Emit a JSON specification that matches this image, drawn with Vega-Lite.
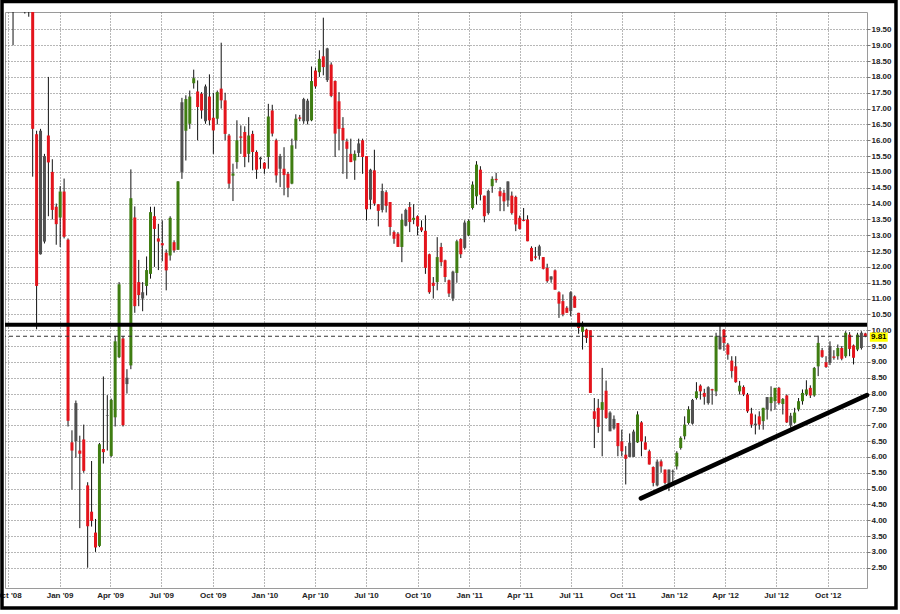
{
"$schema": "https://vega.github.io/schema/vega-lite/v6.json",
"width": 862, "height": 576,
"autosize": {"type": "none"},
"padding": {"left": 5, "top": 12, "right": 33, "bottom": 26},
"background": "white",
"config": {"view": {"stroke": "#9a9a9a", "strokeWidth": 1}, "axis": {"labelOverlap": false}},
"datasets": {"w": [
{"d":"2008-10-10","o":20.6,"h":20.8,"l":19.0,"c":20.3,"k":"n"},
{"d":"2008-10-17","o":20.8,"h":21.4,"l":20.3,"c":21.0,"k":"u"},
{"d":"2008-10-24","o":21.0,"h":21.5,"l":20.4,"c":20.7,"k":"d"},
{"d":"2008-10-31","o":20.6,"h":21.0,"l":20.0,"c":20.4,"k":"d"},
{"d":"2008-11-07","o":20.4,"h":20.8,"l":19.9,"c":20.3,"k":"d"},
{"d":"2008-11-14","o":20.4,"h":20.6,"l":14.85,"c":16.36,"k":"d"},
{"d":"2008-11-21","o":16.19,"h":16.3,"l":10.03,"c":11.4,"k":"d"},
{"d":"2008-11-28","o":12.4,"h":16.36,"l":12.39,"c":16.3,"k":"n"},
{"d":"2008-12-05","o":15.5,"h":15.57,"l":12.74,"c":12.8,"k":"n"},
{"d":"2008-12-12","o":16.15,"h":18.0,"l":13.6,"c":15.3,"k":"d"},
{"d":"2008-12-19","o":15.0,"h":15.4,"l":13.5,"c":13.8,"k":"d"},
{"d":"2008-12-26","o":13.9,"h":14.0,"l":12.7,"c":13.35,"k":"d"},
{"d":"2009-01-02","o":13.56,"h":14.55,"l":12.63,"c":14.38,"k":"u"},
{"d":"2009-01-09","o":14.38,"h":14.79,"l":12.9,"c":12.95,"k":"d"},
{"d":"2009-01-16","o":12.86,"h":12.9,"l":6.96,"c":7.14,"k":"d"},
{"d":"2009-01-23","o":6.46,"h":6.84,"l":4.97,"c":6.2,"k":"d"},
{"d":"2009-01-30","o":6.5,"h":7.78,"l":5.97,"c":7.7,"k":"n"},
{"d":"2009-02-06","o":6.2,"h":6.67,"l":3.75,"c":6.1,"k":"d"},
{"d":"2009-02-13","o":6.55,"h":7.02,"l":5.5,"c":5.56,"k":"d"},
{"d":"2009-02-20","o":5.1,"h":5.2,"l":2.5,"c":3.81,"k":"d"},
{"d":"2009-02-27","o":4.27,"h":5.87,"l":3.8,"c":3.98,"k":"d"},
{"d":"2009-03-06","o":3.61,"h":4.04,"l":3.0,"c":3.14,"k":"d"},
{"d":"2009-03-13","o":3.19,"h":6.44,"l":3.15,"c":6.4,"k":"u"},
{"d":"2009-03-20","o":6.25,"h":8.54,"l":5.79,"c":6.15,"k":"d"},
{"d":"2009-03-27","o":7.3,"h":7.95,"l":6.2,"c":7.32,"k":"n"},
{"d":"2009-04-03","o":6.03,"h":7.84,"l":6.0,"c":7.8,"k":"u"},
{"d":"2009-04-10","o":7.25,"h":9.82,"l":6.96,"c":9.65,"k":"u"},
{"d":"2009-04-17","o":9.15,"h":11.52,"l":9.12,"c":11.45,"k":"u"},
{"d":"2009-04-24","o":9.74,"h":9.82,"l":6.96,"c":7.0,"k":"d"},
{"d":"2009-05-01","o":8.5,"h":8.77,"l":8.0,"c":8.3,"k":"n"},
{"d":"2009-05-08","o":8.89,"h":15.08,"l":8.77,"c":14.17,"k":"u"},
{"d":"2009-05-15","o":13.56,"h":13.91,"l":10.55,"c":10.76,"k":"d"},
{"d":"2009-05-22","o":11.52,"h":12.22,"l":10.76,"c":11.11,"k":"d"},
{"d":"2009-05-29","o":11.2,"h":11.52,"l":10.6,"c":11.0,"k":"n"},
{"d":"2009-06-05","o":11.4,"h":12.33,"l":11.1,"c":11.9,"k":"u"},
{"d":"2009-06-12","o":11.78,"h":13.9,"l":11.63,"c":13.73,"k":"u"},
{"d":"2009-06-19","o":13.6,"h":13.9,"l":12.0,"c":13.2,"k":"d"},
{"d":"2009-06-26","o":12.9,"h":13.36,"l":11.9,"c":12.8,"k":"d"},
{"d":"2009-07-03","o":12.75,"h":13.47,"l":12.18,"c":12.68,"k":"d"},
{"d":"2009-07-10","o":12.45,"h":12.55,"l":11.26,"c":11.89,"k":"d"},
{"d":"2009-07-17","o":12.36,"h":13.6,"l":12.2,"c":13.55,"k":"u"},
{"d":"2009-07-24","o":12.78,"h":12.84,"l":12.45,"c":12.52,"k":"d"},
{"d":"2009-07-31","o":12.54,"h":14.71,"l":12.54,"c":14.7,"k":"u"},
{"d":"2009-08-07","o":15.0,"h":17.34,"l":14.78,"c":17.2,"k":"n"},
{"d":"2009-08-14","o":16.3,"h":17.42,"l":15.36,"c":17.3,"k":"u"},
{"d":"2009-08-21","o":16.52,"h":17.57,"l":16.36,"c":17.38,"k":"u"},
{"d":"2009-08-28","o":17.8,"h":18.23,"l":17.63,"c":17.96,"k":"u"},
{"d":"2009-09-04","o":17.54,"h":17.89,"l":16.0,"c":17.05,"k":"d"},
{"d":"2009-09-11","o":17.47,"h":17.52,"l":16.68,"c":16.94,"k":"d"},
{"d":"2009-09-18","o":16.6,"h":17.76,"l":16.52,"c":17.7,"k":"n"},
{"d":"2009-09-25","o":17.38,"h":18.08,"l":16.47,"c":16.63,"k":"d"},
{"d":"2009-10-02","o":16.71,"h":17.5,"l":15.57,"c":16.31,"k":"d"},
{"d":"2009-10-09","o":16.68,"h":17.57,"l":16.5,"c":17.52,"k":"u"},
{"d":"2009-10-16","o":17.63,"h":19.08,"l":17.0,"c":17.26,"k":"d"},
{"d":"2009-10-23","o":17.26,"h":17.5,"l":16.0,"c":16.2,"k":"d"},
{"d":"2009-10-30","o":16.15,"h":16.2,"l":14.47,"c":14.63,"k":"d"},
{"d":"2009-11-06","o":14.88,"h":15.26,"l":14.08,"c":14.95,"k":"u"},
{"d":"2009-11-13","o":15.31,"h":16.63,"l":15.1,"c":16.0,"k":"u"},
{"d":"2009-11-20","o":16.12,"h":16.47,"l":15.57,"c":16.08,"k":"d"},
{"d":"2009-11-27","o":16.26,"h":16.44,"l":15.15,"c":15.47,"k":"d"},
{"d":"2009-12-04","o":15.57,"h":16.73,"l":15.3,"c":16.15,"k":"u"},
{"d":"2009-12-11","o":16.2,"h":16.3,"l":15.05,"c":15.63,"k":"d"},
{"d":"2009-12-18","o":15.63,"h":15.68,"l":14.78,"c":15.07,"k":"d"},
{"d":"2009-12-25","o":15.45,"h":15.47,"l":15.1,"c":15.4,"k":"n"},
{"d":"2010-01-01","o":15.29,"h":15.31,"l":14.94,"c":15.1,"k":"d"},
{"d":"2010-01-08","o":15.47,"h":17.15,"l":15.1,"c":16.75,"k":"u"},
{"d":"2010-01-15","o":16.94,"h":17.12,"l":16.12,"c":16.21,"k":"d"},
{"d":"2010-01-22","o":16.0,"h":16.05,"l":14.66,"c":14.89,"k":"d"},
{"d":"2010-01-29","o":15.1,"h":15.57,"l":14.52,"c":15.5,"k":"n"},
{"d":"2010-02-05","o":15.1,"h":15.78,"l":14.26,"c":14.9,"k":"d"},
{"d":"2010-02-12","o":14.94,"h":15.0,"l":14.2,"c":14.5,"k":"d"},
{"d":"2010-02-19","o":14.63,"h":16.05,"l":14.61,"c":15.84,"k":"u"},
{"d":"2010-02-26","o":16.0,"h":16.82,"l":15.73,"c":16.68,"k":"u"},
{"d":"2010-03-05","o":16.72,"h":16.8,"l":16.6,"c":16.68,"k":"d"},
{"d":"2010-03-12","o":16.6,"h":17.34,"l":16.52,"c":17.3,"k":"n"},
{"d":"2010-03-19","o":16.6,"h":17.31,"l":16.5,"c":17.25,"k":"n"},
{"d":"2010-03-26","o":16.63,"h":18.33,"l":16.6,"c":17.87,"k":"u"},
{"d":"2010-04-02","o":18.2,"h":18.29,"l":17.63,"c":17.7,"k":"d"},
{"d":"2010-04-09","o":18.15,"h":18.84,"l":18.0,"c":18.57,"k":"u"},
{"d":"2010-04-16","o":18.65,"h":19.87,"l":18.05,"c":18.31,"k":"d"},
{"d":"2010-04-23","o":18.9,"h":18.92,"l":17.84,"c":17.9,"k":"n"},
{"d":"2010-04-30","o":18.39,"h":18.46,"l":17.36,"c":17.4,"k":"d"},
{"d":"2010-05-07","o":17.87,"h":17.89,"l":15.47,"c":16.21,"k":"d"},
{"d":"2010-05-14","o":17.23,"h":17.52,"l":15.68,"c":16.36,"k":"d"},
{"d":"2010-05-21","o":16.39,"h":16.73,"l":14.94,"c":16.0,"k":"d"},
{"d":"2010-05-28","o":15.96,"h":16.05,"l":14.78,"c":15.73,"k":"d"},
{"d":"2010-06-04","o":15.57,"h":16.05,"l":15.31,"c":15.31,"k":"d"},
{"d":"2010-06-11","o":15.36,"h":15.68,"l":14.75,"c":15.57,"k":"u"},
{"d":"2010-06-18","o":15.6,"h":16.05,"l":15.47,"c":15.9,"k":"n"},
{"d":"2010-06-25","o":16.0,"h":16.05,"l":14.94,"c":15.47,"k":"d"},
{"d":"2010-07-02","o":15.5,"h":15.5,"l":13.47,"c":13.82,"k":"d"},
{"d":"2010-07-09","o":14.12,"h":15.1,"l":13.82,"c":15.07,"k":"n"},
{"d":"2010-07-16","o":15.05,"h":15.7,"l":13.93,"c":14.0,"k":"d"},
{"d":"2010-07-23","o":13.98,"h":13.98,"l":13.28,"c":13.77,"k":"d"},
{"d":"2010-07-30","o":13.8,"h":14.63,"l":13.72,"c":14.4,"k":"n"},
{"d":"2010-08-06","o":14.36,"h":14.42,"l":13.72,"c":13.93,"k":"d"},
{"d":"2010-08-13","o":14.05,"h":14.05,"l":13.0,"c":13.26,"k":"d"},
{"d":"2010-08-20","o":13.1,"h":13.15,"l":12.73,"c":12.89,"k":"d"},
{"d":"2010-08-27","o":13.05,"h":13.1,"l":12.63,"c":12.63,"k":"d"},
{"d":"2010-09-03","o":12.63,"h":13.68,"l":12.15,"c":13.49,"k":"u"},
{"d":"2010-09-10","o":13.3,"h":13.84,"l":13.28,"c":13.8,"k":"n"},
{"d":"2010-09-17","o":13.89,"h":14.05,"l":13.1,"c":13.42,"k":"d"},
{"d":"2010-09-24","o":13.48,"h":13.98,"l":13.35,"c":13.55,"k":"u"},
{"d":"2010-10-01","o":13.6,"h":13.63,"l":13.0,"c":13.28,"k":"d"},
{"d":"2010-10-08","o":13.25,"h":13.47,"l":13.1,"c":13.15,"k":"d"},
{"d":"2010-10-15","o":13.14,"h":13.63,"l":11.78,"c":11.97,"k":"d"},
{"d":"2010-10-22","o":12.4,"h":12.42,"l":11.15,"c":11.2,"k":"d"},
{"d":"2010-10-29","o":11.5,"h":11.68,"l":11.0,"c":11.4,"k":"d"},
{"d":"2010-11-05","o":11.52,"h":12.94,"l":11.26,"c":12.31,"k":"u"},
{"d":"2010-11-12","o":12.63,"h":12.76,"l":12.02,"c":12.15,"k":"d"},
{"d":"2010-11-19","o":12.21,"h":12.23,"l":11.52,"c":11.68,"k":"d"},
{"d":"2010-11-26","o":11.58,"h":11.6,"l":11.05,"c":11.16,"k":"d"},
{"d":"2010-12-03","o":11.0,"h":11.88,"l":10.92,"c":11.85,"k":"n"},
{"d":"2010-12-10","o":11.81,"h":12.86,"l":11.5,"c":12.81,"k":"u"},
{"d":"2010-12-17","o":12.88,"h":12.91,"l":12.28,"c":12.4,"k":"d"},
{"d":"2010-12-24","o":12.6,"h":13.47,"l":12.55,"c":13.4,"k":"n"},
{"d":"2010-12-31","o":13.0,"h":13.5,"l":12.97,"c":13.45,"k":"u"},
{"d":"2011-01-07","o":13.86,"h":14.7,"l":13.81,"c":14.6,"k":"u"},
{"d":"2011-01-14","o":14.23,"h":15.34,"l":13.97,"c":15.23,"k":"u"},
{"d":"2011-01-21","o":15.07,"h":15.18,"l":14.1,"c":14.28,"k":"d"},
{"d":"2011-01-28","o":14.25,"h":14.25,"l":13.41,"c":13.6,"k":"d"},
{"d":"2011-02-04","o":13.7,"h":14.44,"l":13.65,"c":14.4,"k":"n"},
{"d":"2011-02-11","o":14.55,"h":14.86,"l":14.34,"c":14.78,"k":"u"},
{"d":"2011-02-18","o":14.78,"h":14.97,"l":14.66,"c":14.74,"k":"d"},
{"d":"2011-02-25","o":14.39,"h":14.52,"l":13.76,"c":14.23,"k":"d"},
{"d":"2011-03-04","o":14.34,"h":14.44,"l":13.76,"c":14.07,"k":"d"},
{"d":"2011-03-11","o":14.1,"h":14.7,"l":13.9,"c":14.7,"k":"n"},
{"d":"2011-03-18","o":14.25,"h":14.38,"l":13.65,"c":13.7,"k":"d"},
{"d":"2011-03-25","o":14.21,"h":14.25,"l":13.13,"c":13.34,"k":"d"},
{"d":"2011-04-01","o":13.55,"h":13.62,"l":13.18,"c":13.2,"k":"d"},
{"d":"2011-04-08","o":13.48,"h":13.86,"l":13.44,"c":13.45,"k":"d"},
{"d":"2011-04-15","o":13.5,"h":13.63,"l":12.81,"c":12.81,"k":"d"},
{"d":"2011-04-22","o":12.6,"h":12.65,"l":12.18,"c":12.18,"k":"d"},
{"d":"2011-04-29","o":12.33,"h":12.63,"l":12.23,"c":12.29,"k":"d"},
{"d":"2011-05-06","o":12.35,"h":12.7,"l":12.23,"c":12.65,"k":"n"},
{"d":"2011-05-13","o":12.31,"h":12.31,"l":11.92,"c":11.94,"k":"d"},
{"d":"2011-05-20","o":11.97,"h":12.1,"l":11.5,"c":11.55,"k":"d"},
{"d":"2011-05-27","o":11.6,"h":11.7,"l":11.5,"c":11.7,"k":"n"},
{"d":"2011-06-03","o":11.89,"h":11.92,"l":11.28,"c":11.28,"k":"d"},
{"d":"2011-06-10","o":11.2,"h":11.23,"l":10.39,"c":10.84,"k":"d"},
{"d":"2011-06-17","o":10.92,"h":11.13,"l":10.44,"c":10.5,"k":"d"},
{"d":"2011-06-24","o":10.71,"h":10.76,"l":10.55,"c":10.55,"k":"d"},
{"d":"2011-07-01","o":10.6,"h":11.23,"l":10.44,"c":11.2,"k":"n"},
{"d":"2011-07-08","o":11.07,"h":11.1,"l":10.71,"c":10.71,"k":"d"},
{"d":"2011-07-15","o":10.55,"h":10.55,"l":9.89,"c":10.07,"k":"d"},
{"d":"2011-07-22","o":9.95,"h":10.28,"l":9.39,"c":10.12,"k":"u"},
{"d":"2011-07-29","o":10.02,"h":10.05,"l":9.6,"c":9.76,"k":"d"},
{"d":"2011-08-05","o":10.0,"h":10.0,"l":8.02,"c":8.02,"k":"d"},
{"d":"2011-08-12","o":7.44,"h":7.86,"l":6.28,"c":7.2,"k":"d"},
{"d":"2011-08-19","o":7.55,"h":7.83,"l":6.76,"c":6.95,"k":"d"},
{"d":"2011-08-26","o":7.49,"h":8.81,"l":6.02,"c":7.73,"k":"u"},
{"d":"2011-09-02","o":8.09,"h":8.41,"l":7.2,"c":7.23,"k":"d"},
{"d":"2011-09-09","o":7.4,"h":7.44,"l":6.81,"c":6.81,"k":"n"},
{"d":"2011-09-16","o":6.9,"h":7.31,"l":6.86,"c":7.2,"k":"n"},
{"d":"2011-09-23","o":7.07,"h":7.07,"l":6.02,"c":6.34,"k":"d"},
{"d":"2011-09-30","o":6.49,"h":6.86,"l":6.02,"c":6.18,"k":"d"},
{"d":"2011-10-07","o":6.07,"h":6.34,"l":5.13,"c":5.94,"k":"d"},
{"d":"2011-10-14","o":6.0,"h":6.74,"l":6.0,"c":6.45,"k":"n"},
{"d":"2011-10-21","o":6.0,"h":6.86,"l":6.0,"c":6.8,"k":"n"},
{"d":"2011-10-28","o":6.46,"h":7.44,"l":6.44,"c":7.34,"k":"u"},
{"d":"2011-11-04","o":7.09,"h":7.13,"l":6.02,"c":6.49,"k":"d"},
{"d":"2011-11-11","o":6.46,"h":6.65,"l":6.23,"c":6.23,"k":"d"},
{"d":"2011-11-18","o":6.18,"h":6.23,"l":5.76,"c":5.76,"k":"d"},
{"d":"2011-11-25","o":5.68,"h":5.7,"l":5.07,"c":5.18,"k":"d"},
{"d":"2011-12-02","o":5.1,"h":5.92,"l":5.07,"c":5.85,"k":"n"},
{"d":"2011-12-09","o":5.86,"h":5.92,"l":5.5,"c":5.7,"k":"d"},
{"d":"2011-12-16","o":5.6,"h":5.6,"l":5.13,"c":5.18,"k":"d"},
{"d":"2011-12-23","o":5.13,"h":5.6,"l":4.92,"c":5.6,"k":"n"},
{"d":"2011-12-30","o":5.53,"h":5.6,"l":5.18,"c":5.56,"k":"n"},
{"d":"2012-01-06","o":5.7,"h":6.18,"l":5.6,"c":6.13,"k":"u"},
{"d":"2012-01-13","o":6.28,"h":6.65,"l":6.23,"c":6.6,"k":"u"},
{"d":"2012-01-20","o":6.65,"h":7.28,"l":6.55,"c":7.02,"k":"u"},
{"d":"2012-01-27","o":7.07,"h":7.6,"l":7.02,"c":7.5,"k":"u"},
{"d":"2012-02-03","o":7.05,"h":7.83,"l":7.02,"c":7.8,"k":"n"},
{"d":"2012-02-10","o":7.86,"h":8.36,"l":7.81,"c":8.07,"k":"u"},
{"d":"2012-02-17","o":8.25,"h":8.29,"l":7.81,"c":8.07,"k":"d"},
{"d":"2012-02-24","o":8.02,"h":8.15,"l":7.65,"c":7.9,"k":"d"},
{"d":"2012-03-02","o":7.7,"h":8.23,"l":7.65,"c":8.2,"k":"n"},
{"d":"2012-03-09","o":8.14,"h":8.15,"l":7.65,"c":8.1,"k":"d"},
{"d":"2012-03-16","o":8.07,"h":9.92,"l":7.92,"c":9.81,"k":"u"},
{"d":"2012-03-23","o":9.4,"h":10.18,"l":9.39,"c":9.8,"k":"n"},
{"d":"2012-03-30","o":10.02,"h":10.04,"l":9.35,"c":9.6,"k":"d"},
{"d":"2012-04-06","o":9.55,"h":9.6,"l":9.07,"c":9.23,"k":"d"},
{"d":"2012-04-13","o":9.04,"h":9.18,"l":8.5,"c":8.71,"k":"d"},
{"d":"2012-04-20","o":8.86,"h":9.18,"l":8.34,"c":8.36,"k":"d"},
{"d":"2012-04-27","o":8.07,"h":8.4,"l":7.97,"c":8.25,"k":"u"},
{"d":"2012-05-04","o":8.21,"h":8.26,"l":7.92,"c":7.97,"k":"d"},
{"d":"2012-05-11","o":7.97,"h":8.02,"l":7.39,"c":7.44,"k":"d"},
{"d":"2012-05-18","o":7.37,"h":7.55,"l":6.92,"c":7.02,"k":"d"},
{"d":"2012-05-25","o":7.05,"h":7.34,"l":6.71,"c":7.0,"k":"n"},
{"d":"2012-06-01","o":7.28,"h":7.44,"l":6.86,"c":7.02,"k":"d"},
{"d":"2012-06-08","o":7.13,"h":7.55,"l":6.86,"c":7.55,"k":"u"},
{"d":"2012-06-15","o":7.5,"h":7.89,"l":7.18,"c":7.89,"k":"n"},
{"d":"2012-06-22","o":7.7,"h":8.23,"l":7.44,"c":7.89,"k":"u"},
{"d":"2012-06-29","o":7.76,"h":8.18,"l":7.49,"c":8.18,"k":"u"},
{"d":"2012-07-06","o":8.18,"h":8.21,"l":7.65,"c":7.7,"k":"d"},
{"d":"2012-07-13","o":7.67,"h":7.86,"l":7.34,"c":7.83,"k":"u"},
{"d":"2012-07-20","o":7.94,"h":7.97,"l":7.07,"c":7.09,"k":"d"},
{"d":"2012-07-27","o":7.0,"h":7.39,"l":6.92,"c":7.3,"k":"n"},
{"d":"2012-08-03","o":7.08,"h":7.55,"l":7.05,"c":7.4,"k":"u"},
{"d":"2012-08-10","o":7.5,"h":7.86,"l":7.44,"c":7.76,"k":"u"},
{"d":"2012-08-17","o":7.76,"h":8.13,"l":7.65,"c":8.02,"k":"u"},
{"d":"2012-08-24","o":7.97,"h":8.42,"l":7.92,"c":8.13,"k":"u"},
{"d":"2012-08-31","o":8.18,"h":8.26,"l":7.86,"c":7.94,"k":"d"},
{"d":"2012-09-07","o":7.94,"h":8.84,"l":7.9,"c":8.81,"k":"u"},
{"d":"2012-09-14","o":8.86,"h":9.83,"l":8.55,"c":9.6,"k":"u"},
{"d":"2012-09-21","o":9.37,"h":9.44,"l":9.13,"c":9.16,"k":"d"},
{"d":"2012-09-28","o":8.99,"h":9.18,"l":8.81,"c":8.84,"k":"d"},
{"d":"2012-10-05","o":8.97,"h":9.65,"l":8.9,"c":9.5,"k":"n"},
{"d":"2012-10-12","o":9.17,"h":9.37,"l":9.07,"c":9.13,"k":"d"},
{"d":"2012-10-19","o":9.18,"h":9.55,"l":9.07,"c":9.44,"k":"u"},
{"d":"2012-10-26","o":9.44,"h":9.5,"l":9.05,"c":9.1,"k":"d"},
{"d":"2012-11-02","o":9.18,"h":9.97,"l":9.13,"c":9.92,"k":"u"},
{"d":"2012-11-09","o":9.86,"h":9.94,"l":9.18,"c":9.41,"k":"d"},
{"d":"2012-11-16","o":9.52,"h":9.55,"l":8.92,"c":9.13,"k":"d"},
{"d":"2012-11-23","o":9.39,"h":9.92,"l":9.34,"c":9.86,"k":"u"},
{"d":"2012-11-30","o":9.44,"h":9.97,"l":9.39,"c":9.92,"k":"n"},
{"d":"2012-12-07","o":9.9,"h":9.92,"l":9.78,"c":9.81,"k":"d"}
]},
"layer": [
{"data": {"name": "w"},
 "mark": {"type": "rule", "color": "#111111", "strokeWidth": 1, "clip": true},
 "encoding": {
  "x": {"field": "d", "type": "temporal",
   "scale": {"domain": [{"year": 2008, "month": 9, "date": 25, "hours": 16}, {"year": 2012, "month": 12, "date": 10}], "nice": false},
   "axis": {"orient": "bottom", "title": null, "format": "%b '%y", "tickCount": 60,
    "values": [{"year":2008,"month":10,"date":1},{"year":2009,"month":1,"date":1},{"year":2009,"month":4,"date":1},{"year":2009,"month":7,"date":1},{"year":2009,"month":10,"date":1},{"year":2010,"month":1,"date":1},{"year":2010,"month":4,"date":1},{"year":2010,"month":7,"date":1},{"year":2010,"month":10,"date":1},{"year":2011,"month":1,"date":1},{"year":2011,"month":4,"date":1},{"year":2011,"month":7,"date":1},{"year":2011,"month":10,"date":1},{"year":2012,"month":1,"date":1},{"year":2012,"month":4,"date":1},{"year":2012,"month":7,"date":1},{"year":2012,"month":10,"date":1}],
    "grid": true, "gridColor": "#6e6e6e", "gridDash": [1, 2], "gridWidth": 1,
    "domain": false, "ticks": false, "labelPadding": 3, "labelOverlap": false, "labelFlush": false, "labelBound": false,
    "labelFont": "Liberation Sans", "labelFontSize": 8, "labelFontWeight": "bold", "labelColor": "#222222"}},
  "y": {"field": "l", "type": "quantitative",
   "scale": {"domain": [1.86, 20.05], "nice": false, "zero": false},
   "axis": {"orient": "right", "title": null, "format": ".2f", "tickCount": 100,
    "values": [2.5,3,3.5,4,4.5,5,5.5,6,6.5,7,7.5,8,8.5,9,9.5,10,10.5,11,11.5,12,12.5,13,13.5,14,14.5,15,15.5,16,16.5,17,17.5,18,18.5,19,19.5],
    "grid": true, "gridColor": "#6e6e6e", "gridDash": [1, 2], "gridWidth": 1,
    "domain": false, "ticks": true, "tickSize": 3, "tickColor": "#777777", "labelPadding": 1, "labelOverlap": false,
    "labelFont": "Liberation Sans", "labelFontSize": 8, "labelFontWeight": "bold", "labelColor": "#222222"}},
  "y2": {"field": "h"}
 }},
{"data": {"name": "w"},
 "mark": {"type": "rule", "strokeWidth": 3, "clip": true},
 "encoding": {
  "x": {"field": "d", "type": "temporal"},
  "y": {"field": "o", "type": "quantitative"},
  "y2": {"field": "c"},
  "color": {"field": "k", "type": "nominal", "legend": null,
   "scale": {"domain": ["d", "u", "n"], "range": ["#e3141c", "#3f7d12", "#505050"]}}
 }},
{"data": {"values": [{}]},
 "mark": {"type": "rule", "color": "#333333", "strokeWidth": 1, "strokeDash": [4, 3]},
 "encoding": {"y": {"datum": 9.81, "type": "quantitative"}}},
{"data": {"values": [{}]},
 "mark": {"type": "rule", "color": "#000000", "strokeWidth": 4},
 "encoding": {"y": {"datum": 10.17, "type": "quantitative"}}},
{"data": {"values": [{}]},
 "mark": {"type": "rule", "color": "#000000", "strokeWidth": 4.5, "strokeCap": "round"},
 "encoding": {
  "x": {"datum": {"year": 2011, "month": 11, "date": 3}, "type": "temporal"},
  "x2": {"datum": {"year": 2012, "month": 12, "date": 10}},
  "y": {"datum": 4.69, "type": "quantitative"},
  "y2": {"datum": 7.95}}},
{"data": {"values": [{}]},
 "mark": {"type": "rect", "color": "#ffff00", "clip": false},
 "encoding": {
  "x": {"datum": {"year": 2012, "month": 12, "date": 15}, "type": "temporal"},
  "x2": {"datum": {"year": 2013, "month": 1, "date": 16}},
  "y": {"datum": 9.64, "type": "quantitative"},
  "y2": {"datum": 9.93}}},
{"data": {"values": [{}]},
 "mark": {"type": "text", "text": "9.81", "font": "Liberation Sans", "fontSize": 8, "fontWeight": "bold", "color": "#000000", "align": "center", "baseline": "middle", "clip": false},
 "encoding": {
  "x": {"datum": {"year": 2012, "month": 12, "date": 31}, "type": "temporal"},
  "y": {"datum": 9.78, "type": "quantitative"}}},
{"data": {"values": [{}]},
 "mark": {"type": "rect", "filled": false, "stroke": "#000000", "strokeWidth": 3.5, "clip": false},
 "encoding": {
  "x": {"datum": {"year": 2008, "month": 9, "date": 20, "hours": 8}, "type": "temporal"},
  "x2": {"datum": {"year": 2013, "month": 1, "date": 30, "hours": 16}},
  "y": {"datum": 20.38, "type": "quantitative"},
  "y2": {"datum": 1.23}}}
]
}
